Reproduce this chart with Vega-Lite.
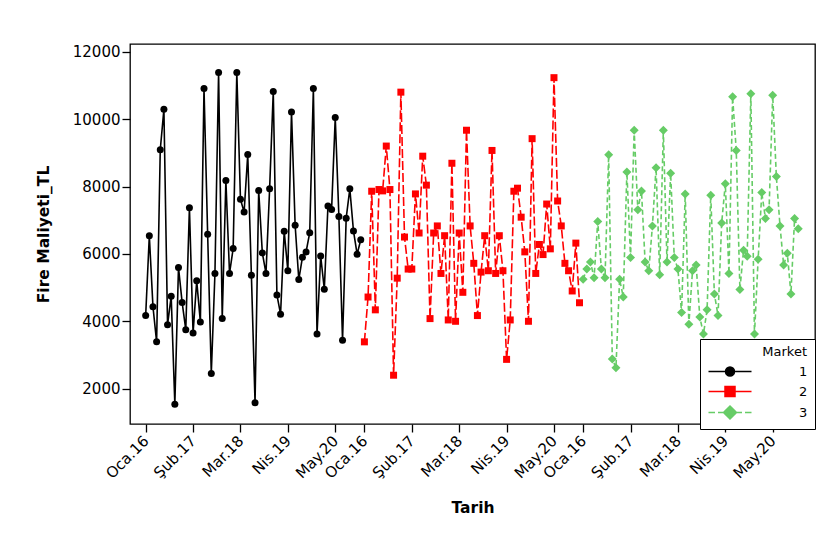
{
  "$schema": "https://vega.github.io/schema/vega-lite/v6.json",
  "width": 685,
  "height": 380,
  "autosize": {"type": "none"},
  "padding": {"left": 130, "top": 44, "right": 15, "bottom": 135},
  "background": "white",
  "config": {
    "font": "DejaVu Sans",
    "view": {"stroke": "black", "strokeWidth": 1.3},
    "axis": {
      "domain": false,
      "grid": false,
      "tickColor": "black",
      "tickWidth": 1.3,
      "tickSize": 8,
      "labelColor": "black",
      "titleColor": "black",
      "labelFont": "DejaVu Sans",
      "labelFontSize": 15,
      "titleFont": "DejaVu Sans",
      "titleFontSize": 15.5,
      "titleFontWeight": "bold"
    }
  },
  "data": {
    "values": [
      {"i":1,"m":"1","v":4170},{"i":2,"m":"1","v":6540},{"i":3,"m":"1","v":4430},{"i":4,"m":"1","v":3390},{"i":5,"m":"1","v":9090},{"i":6,"m":"1","v":10290},{"i":7,"m":"1","v":3900},{"i":8,"m":"1","v":4740},{"i":9,"m":"1","v":1540},{"i":10,"m":"1","v":5600},
      {"i":11,"m":"1","v":4560},{"i":12,"m":"1","v":3750},{"i":13,"m":"1","v":7370},{"i":14,"m":"1","v":3650},{"i":15,"m":"1","v":5200},{"i":16,"m":"1","v":3980},{"i":17,"m":"1","v":10910},{"i":18,"m":"1","v":6580},{"i":19,"m":"1","v":2450},{"i":20,"m":"1","v":5420},
      {"i":21,"m":"1","v":11385},{"i":22,"m":"1","v":4080},{"i":23,"m":"1","v":8180},{"i":24,"m":"1","v":5420},{"i":25,"m":"1","v":6160},{"i":26,"m":"1","v":11385},{"i":27,"m":"1","v":7620},{"i":28,"m":"1","v":7240},{"i":29,"m":"1","v":8950},{"i":30,"m":"1","v":5370},
      {"i":31,"m":"1","v":1580},{"i":32,"m":"1","v":7880},{"i":33,"m":"1","v":6030},{"i":34,"m":"1","v":5420},{"i":35,"m":"1","v":7930},{"i":36,"m":"1","v":10820},{"i":37,"m":"1","v":4780},{"i":38,"m":"1","v":4210},{"i":39,"m":"1","v":6670},{"i":40,"m":"1","v":5500},
      {"i":41,"m":"1","v":10210},{"i":42,"m":"1","v":6850},{"i":43,"m":"1","v":5240},{"i":44,"m":"1","v":5900},{"i":45,"m":"1","v":6060},{"i":46,"m":"1","v":6630},{"i":47,"m":"1","v":10910},{"i":48,"m":"1","v":3620},{"i":49,"m":"1","v":5940},{"i":50,"m":"1","v":4950},
      {"i":51,"m":"1","v":7420},{"i":52,"m":"1","v":7320},{"i":53,"m":"1","v":10050},{"i":54,"m":"1","v":7110},{"i":55,"m":"1","v":3440},{"i":56,"m":"1","v":7060},{"i":57,"m":"1","v":7930},{"i":58,"m":"1","v":6680},{"i":59,"m":"1","v":5990},{"i":60,"m":"1","v":6420},
      {"i":61,"m":"2","v":3390},{"i":62,"m":"2","v":4720},{"i":63,"m":"2","v":7860},{"i":64,"m":"2","v":4340},{"i":65,"m":"2","v":7910},{"i":66,"m":"2","v":7870},{"i":67,"m":"2","v":9200},{"i":68,"m":"2","v":7910},{"i":69,"m":"2","v":2400},{"i":70,"m":"2","v":5280},
      {"i":71,"m":"2","v":10800},{"i":72,"m":"2","v":6500},{"i":73,"m":"2","v":5550},{"i":74,"m":"2","v":5550},{"i":75,"m":"2","v":7780},{"i":76,"m":"2","v":6620},{"i":77,"m":"2","v":8900},{"i":78,"m":"2","v":8040},{"i":79,"m":"2","v":4080},{"i":80,"m":"2","v":6620},
      {"i":81,"m":"2","v":6830},{"i":82,"m":"2","v":5420},{"i":83,"m":"2","v":6540},{"i":84,"m":"2","v":4040},{"i":85,"m":"2","v":8690},{"i":86,"m":"2","v":4000},{"i":87,"m":"2","v":6620},{"i":88,"m":"2","v":4860},{"i":89,"m":"2","v":9670},{"i":90,"m":"2","v":6830},
      {"i":91,"m":"2","v":5720},{"i":92,"m":"2","v":4170},{"i":93,"m":"2","v":5460},{"i":94,"m":"2","v":6540},{"i":95,"m":"2","v":5500},{"i":96,"m":"2","v":9070},{"i":97,"m":"2","v":5420},{"i":98,"m":"2","v":6540},{"i":99,"m":"2","v":5500},{"i":100,"m":"2","v":2870},
      {"i":101,"m":"2","v":4040},{"i":102,"m":"2","v":7860},{"i":103,"m":"2","v":7950},{"i":104,"m":"2","v":7090},{"i":105,"m":"2","v":6060},{"i":106,"m":"2","v":4000},{"i":107,"m":"2","v":9420},{"i":108,"m":"2","v":5420},{"i":109,"m":"2","v":6280},{"i":110,"m":"2","v":5980},
      {"i":111,"m":"2","v":7480},{"i":112,"m":"2","v":6150},{"i":113,"m":"2","v":11230},{"i":114,"m":"2","v":7570},{"i":115,"m":"2","v":6830},{"i":116,"m":"2","v":5720},{"i":117,"m":"2","v":5500},{"i":118,"m":"2","v":4900},{"i":119,"m":"2","v":6320},{"i":120,"m":"2","v":4550},
      {"i":121,"m":"3","v":5250},{"i":122,"m":"3","v":5550},{"i":123,"m":"3","v":5760},{"i":124,"m":"3","v":5290},{"i":125,"m":"3","v":6960},{"i":126,"m":"3","v":5550},{"i":127,"m":"3","v":5290},{"i":128,"m":"3","v":8940},{"i":129,"m":"3","v":2880},{"i":130,"m":"3","v":2620},
      {"i":131,"m":"3","v":5250},{"i":132,"m":"3","v":4720},{"i":133,"m":"3","v":8430},{"i":134,"m":"3","v":5890},{"i":135,"m":"3","v":9670},{"i":136,"m":"3","v":7310},{"i":137,"m":"3","v":7870},{"i":138,"m":"3","v":5760},{"i":139,"m":"3","v":5500},{"i":140,"m":"3","v":6830},
      {"i":141,"m":"3","v":8560},{"i":142,"m":"3","v":5380},{"i":143,"m":"3","v":9670},{"i":144,"m":"3","v":5760},{"i":145,"m":"3","v":8390},{"i":146,"m":"3","v":5890},{"i":147,"m":"3","v":5550},{"i":148,"m":"3","v":4260},{"i":149,"m":"3","v":7780},{"i":150,"m":"3","v":3910},
      {"i":151,"m":"3","v":5500},{"i":152,"m":"3","v":5670},{"i":153,"m":"3","v":4130},{"i":154,"m":"3","v":3620},{"i":155,"m":"3","v":4340},{"i":156,"m":"3","v":7740},{"i":157,"m":"3","v":4810},{"i":158,"m":"3","v":4170},{"i":159,"m":"3","v":6920},{"i":160,"m":"3","v":8080},
      {"i":161,"m":"3","v":5420},{"i":162,"m":"3","v":10660},{"i":163,"m":"3","v":9070},{"i":164,"m":"3","v":4940},{"i":165,"m":"3","v":6110},{"i":166,"m":"3","v":5930},{"i":167,"m":"3","v":10750},{"i":168,"m":"3","v":3620},{"i":169,"m":"3","v":5840},{"i":170,"m":"3","v":7820},
      {"i":171,"m":"3","v":7050},{"i":172,"m":"3","v":7310},{"i":173,"m":"3","v":10710},{"i":174,"m":"3","v":8300},{"i":175,"m":"3","v":6830},{"i":176,"m":"3","v":5670},{"i":177,"m":"3","v":6020},{"i":178,"m":"3","v":4810},{"i":179,"m":"3","v":7050},{"i":180,"m":"3","v":6750}
    ]
  },
  "encoding": {
    "x": {
      "field": "i",
      "type": "quantitative",
      "scale": {"domain": [-3.3, 184.6], "nice": false, "zero": false},
      "axis": {
        "title": "Tarih",
        "values": [1, 14, 27, 40, 53, 61, 74, 87, 100, 113, 121, 134, 147, 160, 173],
        "labelExpr": "['Oca.16','Şub.17','Mar.18','Nis.19','May.20'][floor(((datum.value - 1) % 60) / 13)]",
        "labelAngle": -45,
        "labelAlign": "right",
        "labelBaseline": "middle",
        "labelPadding": 6,
        "labelOverlap": false,
        "titleY": 83,
        "titleBaseline": "middle"
      }
    },
    "y": {
      "field": "v",
      "type": "quantitative",
      "scale": {"domain": [952, 12229], "nice": false, "zero": false},
      "axis": {
        "title": "Fire Maliyeti_TL",
        "values": [2000, 4000, 6000, 8000, 10000, 12000],
        "format": "d",
        "labelPadding": 2,
        "titleX": -87,
        "titleY": 190,
        "titleBaseline": "middle",
        "titleAlign": "center"
      }
    }
  },
  "layer": [
    {
      "mark": {"type": "point", "size": 0, "opacity": 1, "strokeWidth": 1.5},
      "encoding": {
        "shape": {
          "field": "m",
          "type": "nominal",
          "scale": {
            "domain": ["1", "2", "3"],
            "range": [
              "M-1,0H7.6M4.2,0A0.9,0.9,0,1,1,2.4,0A0.9,0.9,0,1,1,4.2,0Z",
              "M-1,0H7.6M2.3,-1H4.3V1H2.3Z",
              "M-1,0H0.3M0.9,0H2.1M4.5,0H5.7M6.3,0H7.6M3.3,-1.3L4.6,0L3.3,1.3L2,0Z"
            ]
          },
          "legend": {
            "title": "Market",
            "orient": "none",
            "legendX": 570,
            "legendY": 295,
            "fillColor": "white",
            "strokeColor": "black",
            "padding": 7,
            "titleAnchor": "end",
            "titleFontSize": 13,
            "titleFontWeight": "normal",
            "titleColor": "black",
            "titlePadding": 6,
            "labelFontSize": 13,
            "labelColor": "black",
            "labelOffset": 79,
            "symbolSize": 100,
            "symbolStrokeWidth": 1.5,
            "rowPadding": 3
          }
        },
        "fill": {"field": "m", "type": "nominal", "scale": {"domain": ["1", "2", "3"], "range": ["#000000", "#FF0000", "#66CC66"]}},
        "stroke": {"field": "m", "type": "nominal", "scale": {"domain": ["1", "2", "3"], "range": ["#000000", "#FF0000", "#66CC66"]}}
      }
    },
    {
      "transform": [{"filter": "datum.m == '1'"}],
      "mark": {"type": "line", "strokeWidth": 1.6, "color": "#000000"}
    },
    {
      "transform": [{"filter": "datum.m == '2'"}],
      "mark": {"type": "line", "strokeWidth": 1.6, "color": "#FF0000", "strokeDash": [9, 3]}
    },
    {
      "transform": [{"filter": "datum.m == '3'"}],
      "mark": {"type": "line", "strokeWidth": 1.6, "color": "#66CC66", "strokeDash": [5, 3]}
    },
    {
      "transform": [{"filter": "datum.m == '1'"}],
      "mark": {"type": "point", "shape": "circle", "filled": true, "size": 49, "color": "#000000", "opacity": 1}
    },
    {
      "transform": [{"filter": "datum.m == '2'"}],
      "mark": {"type": "point", "shape": "square", "filled": true, "size": 49, "color": "#FF0000", "opacity": 1}
    },
    {
      "transform": [{"filter": "datum.m == '3'"}],
      "mark": {"type": "point", "shape": "diamond", "filled": true, "size": 81, "color": "#66CC66", "opacity": 1}
    }
  ]
}
